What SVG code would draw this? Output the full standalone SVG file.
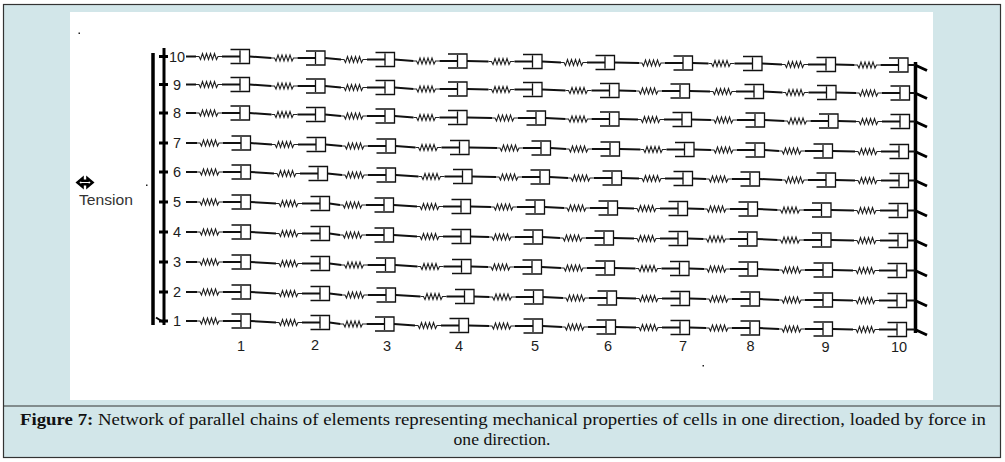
<svg xmlns="http://www.w3.org/2000/svg" xmlns:xlink="http://www.w3.org/1999/xlink" width="1005" height="462" viewBox="0 0 1005 462">
<style>
.ln{fill:none;stroke:#111;stroke-width:2}
.sp{fill:none;stroke:#222;stroke-width:1.1}
.bx{fill:none;stroke:#111;stroke-width:1.3}
.bar{fill:none;stroke:#000;stroke-width:3.5}
.tk{fill:none;stroke:#000;stroke-width:3}
.num{font-family:"Liberation Sans",Arial,sans-serif;font-size:14.5px;fill:#1c1c1c}
.cap{font-family:"Liberation Serif","Times New Roman",serif;font-size:16.5px;fill:#111}
</style>
<defs>
<g id="u">
<path class="sp" d="M-44,0 h3 l1.5,3 l2,-6 l2,6 l2,-6 l2,6 l2,-6 l2,6 l2,-6 l2,6 l1.5,-3 h4"/>
<path class="ln" d="M-18,0 H0"/>
<path class="bx" d="M-9.5,-7 H9.5 V7 H-9.5 M0,-6 V6"/>
</g>
</defs>
<rect x="3.5" y="4.5" width="997" height="453" fill="#d2e6e9" stroke="#333" stroke-width="1.2"/>
<line x1="3.5" y1="406" x2="1000.5" y2="406" stroke="#333" stroke-width="1.2"/>
<rect x="70" y="12" width="863" height="388" fill="#fff"/>

<g id="left-support">
<path class="bar" d="M153,53 V325"/>
<path class="tk" d="M164,48 V325"/>
<path class="tk" d="M159,56.5 H168 M159,84.5 H168 M159,113 H168 M159,143 H168 M159,172 H168 M159,202 H168 M159,232 H168 M159,262 H168 M159,292 H168 M159,321 H168"/>
<path d="M156,317.5 L163,322" fill="none" stroke="#000" stroke-width="2"/>
</g>

<g id="right-support">
<path class="bar" d="M915.5,62 V333"/>
<path class="tk" d="M915,65 l12,5.5 M915,93 l12,5.5 M915,121.5 l12,5.5 M915,151.5 l12,5.5 M915,180.5 l12,5.5 M915,210.5 l12,5.5 M915,240.5 l12,5.5 M915,270.5 l12,5.5 M915,300.5 l12,5.5 M915,329.5 l12,5.5"/>
</g>

<g id="tension">
<path d="M77.5,182.5 L82.5,178.3 V180.8 H87.5 V178.3 L92.5,182.5 L87.5,186.7 V184.2 H82.5 V186.7 Z" fill="#fff" stroke="#000" stroke-width="2.6" stroke-linejoin="miter"/>
<text x="79" y="205" font-family="Liberation Sans,Arial,sans-serif" font-size="15" fill="#333" textLength="54" lengthAdjust="spacingAndGlyphs">Tension</text>
</g>
<rect x="78.5" y="32.5" width="1.5" height="1.5" fill="#222"/>
<rect x="146" y="184.5" width="1.5" height="1.5" fill="#222"/>
<rect x="702.5" y="365" width="1.5" height="1.5" fill="#222"/>

<g id="row-labels" class="num">
<text x="169" y="61.5">10</text>
<text x="173" y="89.5">9</text>
<text x="173" y="118">8</text>
<text x="173" y="148">7</text>
<text x="173" y="177">6</text>
<text x="173" y="207">5</text>
<text x="173" y="237">4</text>
<text x="173" y="267">3</text>
<text x="173" y="297">2</text>
<text x="173" y="326">1</text>
</g>

<g id="column-labels" class="num" text-anchor="middle">
<text x="241" y="350.5">1</text>
<text x="315" y="349.5">2</text>
<text x="387" y="350.5">3</text>
<text x="459" y="350.5">4</text>
<text x="535" y="350.5">5</text>
<text x="608" y="351">6</text>
<text x="683" y="351">7</text>
<text x="750.5" y="351">8</text>
<text x="825.5" y="351.5">9</text>
<text x="899" y="351.5">10</text>
</g>

<g id="connectors" class="ln">
<path d="M186,56.5 L196,56.5 M249.5,56.5 L271.5,58 M325,58 L341,59.5 M394.5,59.5 L413.5,61 M467,61 L488.5,61.5 M542,61.5 L561,62.5 M614.5,62.5 L639,63 M692.5,63 L708.5,63.5 M762,63.5 L782,64.5 M835.5,64.5 L854.5,65 M908,65 H915"/>
<path d="M186,84.5 L196,84.5 M249.5,84.5 L271.5,86 M325,86 L341,87.5 M394.5,87.5 L413.5,89 M467,89 L488.5,89.5 M542,89.5 L565.5,90.5 M619,90.5 L636,91 M689.5,91 L710,91.5 M763.5,91.5 L782.5,92.5 M836,92.5 L856,93 M909.5,93 H915"/>
<path d="M186,113 L196,113 M249.5,113 L271.5,114.5 M325,114.5 L341,116 M394.5,116 L413.5,117.5 M467,117.5 L492,118 M545.5,118 L565.5,119 M619,119 L638,119.5 M691.5,119.5 L711,120 M764.5,120 L784.5,121 M838,121 L856,121.5 M909.5,121.5 H915"/>
<path d="M186,143 L197,143 M250.5,143 L272,144.5 M325.5,144.5 L342,146 M395.5,146 L415.5,147.5 M469,147.5 L497,148 M550.5,148 L566,149 M619.5,149 L640.5,149.5 M694,149.5 L711,150 M764.5,150 L779,151 M832.5,151 L855,151.5 M908.5,151.5 H915"/>
<path d="M186,172 L197,172 M250.5,172 L274,173.5 M327.5,173.5 L342,175 M395.5,175 L418.5,176.5 M472,176.5 L496,177 M549.5,177 L568,178 M621.5,178 L639,178.5 M692.5,178.5 L706,179 M759.5,179 L782,180 M835.5,180 L855,180.5 M908.5,180.5 H915"/>
<path d="M186,202 L197,202 M250.5,202 L276,203.5 M329.5,203.5 L340,205 M393.5,205 L417,206.5 M470.5,206.5 L491,207 M544.5,207 L564,208 M617.5,208 L634,208.5 M687.5,208.5 L704,209 M757.5,209 L777.5,210 M831,210 L854,210.5 M907.5,210.5 H915"/>
<path d="M186,232 L197,232 M250.5,232 L276,233.5 M329.5,233.5 L340,235 M393.5,235 L417,236.5 M470.5,236.5 L489,237 M542.5,237 L560,238 M613.5,238 L634,238.5 M687.5,238.5 L703.5,239 M757,239 L777.5,240 M831,240 L854,240.5 M907.5,240.5 H915"/>
<path d="M186,262 L197,262 M250.5,262 L276,263.5 M329.5,263.5 L341.5,265 M395,265 L417.5,266.5 M471,266.5 L488,267 M541.5,267 L561,268 M614.5,268 L635.5,268.5 M689,268.5 L704,269 M757.5,269 L779,270 M832.5,270 L853,270.5 M906.5,270.5 H915"/>
<path d="M186,292 L197,292 M250.5,292 L276,293.5 M329.5,293.5 L342,295 M395.5,295 L420.5,296.5 M474,296.5 L489.5,297 M543,297 L563,298 M616.5,298 L636,298.5 M689.5,298.5 L706,299 M759.5,299 L779,300 M832.5,300 L853,300.5 M906.5,300.5 H915"/>
<path d="M186,321 L197,321 M250.5,321 L276,322.5 M329.5,322.5 L340.5,324 M394,324 L415,325.5 M468.5,325.5 L489,326 M542.5,326 L562,327 M615.5,327 L636,327.5 M689.5,327.5 L706,328 M759.5,328 L779,329 M832.5,329 L853,329.5 M906.5,329.5 H915"/>
</g>

<g id="chain-10">
<use href="#u" x="240" y="56.5"/><use href="#u" x="315.5" y="58"/><use href="#u" x="385" y="59.5"/><use href="#u" x="457.5" y="61"/><use href="#u" x="532.5" y="61.5"/><use href="#u" x="605" y="62.5"/><use href="#u" x="683" y="63"/><use href="#u" x="752.5" y="63.5"/><use href="#u" x="826" y="64.5"/><use href="#u" x="898.5" y="65"/>
</g>
<g id="chain-9">
<use href="#u" x="240" y="84.5"/><use href="#u" x="315.5" y="86"/><use href="#u" x="385" y="87.5"/><use href="#u" x="457.5" y="89"/><use href="#u" x="532.5" y="89.5"/><use href="#u" x="609.5" y="90.5"/><use href="#u" x="680" y="91"/><use href="#u" x="754" y="91.5"/><use href="#u" x="826.5" y="92.5"/><use href="#u" x="900" y="93"/>
</g>
<g id="chain-8">
<use href="#u" x="240" y="113"/><use href="#u" x="315.5" y="114.5"/><use href="#u" x="385" y="116"/><use href="#u" x="457.5" y="117.5"/><use href="#u" x="536" y="118"/><use href="#u" x="609.5" y="119"/><use href="#u" x="682" y="119.5"/><use href="#u" x="755" y="120"/><use href="#u" x="828.5" y="121"/><use href="#u" x="900" y="121.5"/>
</g>
<g id="chain-7">
<use href="#u" x="241" y="143"/><use href="#u" x="316" y="144.5"/><use href="#u" x="386" y="146"/><use href="#u" x="459.5" y="147.5"/><use href="#u" x="541" y="148"/><use href="#u" x="610" y="149"/><use href="#u" x="684.5" y="149.5"/><use href="#u" x="755" y="150"/><use href="#u" x="823" y="151"/><use href="#u" x="899" y="151.5"/>
</g>
<g id="chain-6">
<use href="#u" x="241" y="172"/><use href="#u" x="318" y="173.5"/><use href="#u" x="386" y="175"/><use href="#u" x="462.5" y="176.5"/><use href="#u" x="540" y="177"/><use href="#u" x="612" y="178"/><use href="#u" x="683" y="178.5"/><use href="#u" x="750" y="179"/><use href="#u" x="826" y="180"/><use href="#u" x="899" y="180.5"/>
</g>
<g id="chain-5">
<use href="#u" x="241" y="202"/><use href="#u" x="320" y="203.5"/><use href="#u" x="384" y="205"/><use href="#u" x="461" y="206.5"/><use href="#u" x="535" y="207"/><use href="#u" x="608" y="208"/><use href="#u" x="678" y="208.5"/><use href="#u" x="748" y="209"/><use href="#u" x="821.5" y="210"/><use href="#u" x="898" y="210.5"/>
</g>
<g id="chain-4">
<use href="#u" x="241" y="232"/><use href="#u" x="320" y="233.5"/><use href="#u" x="384" y="235"/><use href="#u" x="461" y="236.5"/><use href="#u" x="533" y="237"/><use href="#u" x="604" y="238"/><use href="#u" x="678" y="238.5"/><use href="#u" x="747.5" y="239"/><use href="#u" x="821.5" y="240"/><use href="#u" x="898" y="240.5"/>
</g>
<g id="chain-3">
<use href="#u" x="241" y="262"/><use href="#u" x="320" y="263.5"/><use href="#u" x="385.5" y="265"/><use href="#u" x="461.5" y="266.5"/><use href="#u" x="532" y="267"/><use href="#u" x="605" y="268"/><use href="#u" x="679.5" y="268.5"/><use href="#u" x="748" y="269"/><use href="#u" x="823" y="270"/><use href="#u" x="897" y="270.5"/>
</g>
<g id="chain-2">
<use href="#u" x="241" y="292"/><use href="#u" x="320" y="293.5"/><use href="#u" x="386" y="295"/><use href="#u" x="464.5" y="296.5"/><use href="#u" x="533.5" y="297"/><use href="#u" x="607" y="298"/><use href="#u" x="680" y="298.5"/><use href="#u" x="750" y="299"/><use href="#u" x="823" y="300"/><use href="#u" x="897" y="300.5"/>
</g>
<g id="chain-1">
<use href="#u" x="241" y="321"/><use href="#u" x="320" y="322.5"/><use href="#u" x="384.5" y="324"/><use href="#u" x="459" y="325.5"/><use href="#u" x="533" y="326"/><use href="#u" x="606" y="327"/><use href="#u" x="680" y="327.5"/><use href="#u" x="750" y="328"/><use href="#u" x="823" y="329"/><use href="#u" x="897" y="329.5"/>
</g>

<g id="caption" class="cap">
<text x="20" y="424.5" textLength="966" lengthAdjust="spacingAndGlyphs"><tspan font-weight="bold">Figure 7:</tspan> Network of parallel chains of elements representing mechanical properties of cells in one direction, loaded by force in</text>
<text x="502" y="445" text-anchor="middle" textLength="97" lengthAdjust="spacingAndGlyphs">one direction.</text>
</g>
</svg>
